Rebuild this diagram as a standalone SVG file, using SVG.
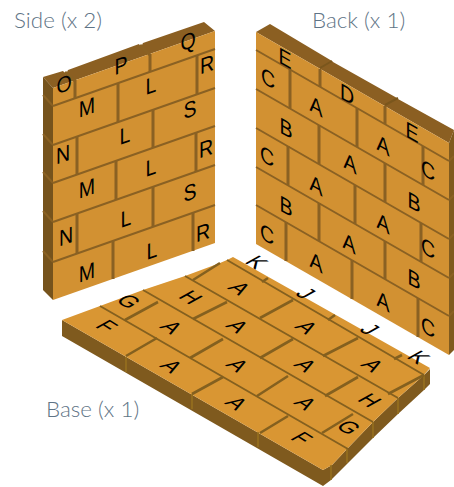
<svg xmlns="http://www.w3.org/2000/svg" width="454" height="487" viewBox="0 0 454 487">
<style>
.face{fill:#d29132}.basetop{fill:#d99633}.top{fill:#8b5f22}.dark{fill:#76531c}.rdark{fill:#7f5a1e}
.seam{stroke:#8a6123;stroke-width:3;fill:none}
.course{stroke:#8a6123;stroke-width:2;fill:none}
.bseam{stroke:#84601f;stroke-width:2.6;fill:none}
.bcourse{stroke:#84601f;stroke-width:1.9;fill:none}
.edge{stroke:#97701f;stroke-width:1.6;fill:none}
text{font-family:"Liberation Sans",Arial,sans-serif;font-size:22.500px;fill:#000;text-anchor:middle}
.lab{font-family:Lato,"Open Sans",sans-serif;font-weight:300;font-size:22.400px;fill:#5f7486;text-anchor:start}
</style>
<g id="label-side"><text class="lab" x="14" y="28">Side (x 2)</text></g>
<g id="label-back"><text class="lab" x="312" y="28">Back (x 1)</text></g>
<g id="label-base"><text class="lab" x="46" y="417">Base (x 1)</text></g>
<g id="side-wall">
<polygon class="top" points="43,77 63,71 66,74 68,70 139,44 141,47 143,43 204,22 215,31 53,88"/>
<polygon class="dark" points="43,77 53,88 53,300 43,290"/>
<polygon class="face" points="53,88 215,31 215,243 53,300"/>
<path class="seam" d="M65,72L75,81M140,45L150,55"/>
<path class="course" d="M43,95L53,106M43,134L53,145M43,172L53,183M43,211L53,222M43,251L53,262"/>
<path class="course" d="M53,106L215,49M53,145L215,88M53,183L215,126M53,222L215,165M53,262L215,205"/>
<path class="seam" d="M75,80V98M150,54V72M118,83V122M197,55V94M77,137V175M153,110V148M116,161V200M196,133V172M77,214V254M153,187V227M113,241V279M193,213V251"/>
<g transform="translate(0,8)">
<text transform="matrix(.87,-.3,0,1,64,84)">O</text>
<text transform="matrix(.87,-.3,0,1,121,65)">P</text>
<text transform="matrix(.87,-.3,0,1,188,41)">Q</text>
<text transform="matrix(.87,-.3,0,1,207,64)">R</text>
<text transform="matrix(.87,-.3,0,1,87,107)">M</text>
<text transform="matrix(.87,-.3,0,1,151,85)">L</text>
<text transform="matrix(.87,-.3,0,1,190,109)">S</text>
<text transform="matrix(.87,-.3,0,1,125,135)">L</text>
<text transform="matrix(.87,-.3,0,1,206,148)">R</text>
<text transform="matrix(.87,-.3,0,1,63,154)">N</text>
<text transform="matrix(.87,-.3,0,1,151,167)">L</text>
<text transform="matrix(.87,-.3,0,1,87,188)">M</text>
<text transform="matrix(.87,-.3,0,1,190,192)">S</text>
<text transform="matrix(.87,-.3,0,1,126,218)">L</text>
<text transform="matrix(.87,-.3,0,1,66,236)">N</text>
<text transform="matrix(.87,-.3,0,1,203,232)">R</text>
<text transform="matrix(.87,-.3,0,1,152,250)">L</text>
<text transform="matrix(.87,-.3,0,1,87,272)">M</text>
</g>
</g>
<g id="back-wall">
<polygon class="top" points="256,32 270,24 332,61 333,62 397,98 398,99 454,130 449,143"/>
<polygon class="rdark" points="449,143 454,130 454,350 449,355"/>
<polygon class="face" points="256,32 449,143 449,355 256,244"/>
<path class="course" d="M320,68L332,61M385,105L398,98" style="stroke:#7a561c"/>
<path class="course" d="M449,161L454,156M449,200L454,195M449,239L454,234M449,278L454,273M449,316L454,311"/>
<path class="course" d="M256,50L449,161M256,89L449,200M256,128L449,239M256,167L449,278M256,205L449,316"/>
<path class="seam" d="M320,69V87M385,106V124M290,69.500V108.500M357,108V147M423,146V185M319,125V164M385,163V202M288,146V185M355,185V224M421,223V262M319,203V241M385,241V279M286,222V261M352,260V299M418,298V337"/>
<g transform="translate(0,8)">
<text transform="matrix(.87,.5,0,1,285,58)">E</text>
<text transform="matrix(.87,.5,0,1,347,94)">D</text>
<text transform="matrix(.87,.5,0,1,412,132)">E</text>
<text transform="matrix(.87,.5,0,1,268,78)">C</text>
<text transform="matrix(.87,.5,0,1,316,106)">A</text>
<text transform="matrix(.87,.5,0,1,383,145)">A</text>
<text transform="matrix(.87,.5,0,1,428,170)">C</text>
<text transform="matrix(.87,.5,0,1,286,128)">B</text>
<text transform="matrix(.87,.5,0,1,350,163)">A</text>
<text transform="matrix(.87,.5,0,1,414,202)">B</text>
<text transform="matrix(.87,.5,0,1,267,156)">C</text>
<text transform="matrix(.87,.5,0,1,316,185)">A</text>
<text transform="matrix(.87,.5,0,1,383,223)">A</text>
<text transform="matrix(.87,.5,0,1,428,248)">C</text>
<text transform="matrix(.87,.5,0,1,286,206)">B</text>
<text transform="matrix(.87,.5,0,1,349,243)">A</text>
<text transform="matrix(.87,.5,0,1,414,279)">B</text>
<text transform="matrix(.87,.5,0,1,267,234)">C</text>
<text transform="matrix(.87,.5,0,1,316,262)">A</text>
<text transform="matrix(.87,.5,0,1,383,301)">A</text>
<text transform="matrix(.87,.5,0,1,428,327)">C</text>
</g>
</g>
<g id="base">
<polygon class="rdark" points="62,320 323,470 332,465 347,449 373,422 398,398 424,375 430,369 430,384 424,390 398,414 373,438 348,463 331,480 323,486 62,336"/>
<polygon class="basetop" points="62,320 100,306 143,290 185,276 220,263 227,260 233,257 430,368 424,375 398,398 373,422 347,449 332,465 323,470"/>
<path class="edge" d="M126,357V372M192,394V409M258,432V447M331,465V480M347,449V463M373,422V438M398,398V414M424,375V390"/>
<path class="bcourse" d="M100,306L348,449M143,290L373,422M185,276L398,398M227,260L424,375"/>
<path class="bseam" d="M126,356L157,338M192,394L223,377M260,433L288,416M125,320L158,302M190,358L223,339M257,396L288,376M322,433L353,414M193,319L227,302M260,358L293,339M325,396L358,377M193,280L220,263M260,318L293,300M323,356L358,338M388,394L424,375M262,282L268,278M328,320L335,315M394,359L402,355"/>
<g>
<text transform="matrix(.8,.5,-.9,.5,107,326)" y="8">F</text>
<text transform="matrix(.8,.5,-.9,.5,172,366)" y="8">A</text>
<text transform="matrix(.8,.5,-.9,.5,237,403)" y="8">A</text>
<text transform="matrix(.8,.5,-.9,.5,302,438)" y="8">F</text>
<text transform="matrix(.8,.5,-.9,.5,129,301)" y="8">G</text>
<text transform="matrix(.8,.5,-.9,.5,172,327)" y="8">A</text>
<text transform="matrix(.8,.5,-.9,.5,238,365)" y="8">A</text>
<text transform="matrix(.8,.5,-.9,.5,306,403)" y="8">A</text>
<text transform="matrix(.8,.5,-.9,.5,349,427)" y="8">G</text>
<text transform="matrix(.8,.5,-.9,.5,191,297)" y="8">H</text>
<text transform="matrix(.8,.5,-.9,.5,238,326)" y="8">A</text>
<text transform="matrix(.8,.5,-.9,.5,306,365)" y="8">A</text>
<text transform="matrix(.8,.5,-.9,.5,370,400)" y="8">H</text>
<text transform="matrix(.8,.5,-.9,.5,240,288)" y="8">A</text>
<text transform="matrix(.8,.5,-.9,.5,307,327)" y="8">A</text>
<text transform="matrix(.8,.5,-.9,.5,373,365)" y="8">A</text>
<text transform="matrix(.8,.5,-.9,.5,257,262)" y="8">K</text>
<text transform="matrix(.8,.5,-.9,.5,306,293)" y="8">J</text>
<text transform="matrix(.8,.5,-.9,.5,370,329)" y="8">J</text>
<text transform="matrix(.8,.5,-.9,.5,419,357)" y="8">K</text>
</g>
</g>
</svg>
